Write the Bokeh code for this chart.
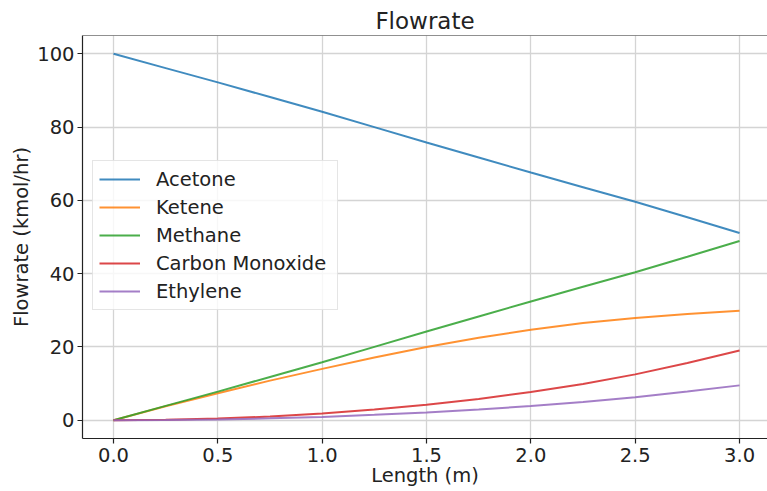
from bokeh.plotting import figure
from bokeh.models import Legend, LegendItem, Span, FixedTicker, Range1d
from bokeh.embed import file_html
from bokeh.resources import INLINE

length_m = [0.0, 0.25, 0.5, 0.75, 1.0, 1.25, 1.5, 1.75, 2.0, 2.25, 2.5, 2.75, 3.0]
acetone = [100.0, 96.1, 92.2, 88.2, 84.2, 80.0, 75.8, 71.7, 67.6, 63.6, 59.6, 55.4, 51.1]
ketene = [0.0, 3.8, 7.35, 10.8, 14.0, 17.1, 20.0, 22.5, 24.7, 26.5, 27.9, 29.0, 29.9]
methane = [0.0, 3.9, 7.8, 11.8, 15.8, 20.0, 24.2, 28.3, 32.4, 36.4, 40.4, 44.6, 48.9]
carbon_monoxide = [0.0, 0.1, 0.45, 1.0, 1.8, 2.9, 4.2, 5.8, 7.7, 9.9, 12.5, 15.6, 19.0]
ethylene = [0.0, 0.05, 0.22, 0.5, 0.9, 1.45, 2.1, 2.9, 3.85, 4.95, 6.25, 7.8, 9.5]

series_names = ["Acetone", "Ketene", "Methane", "Carbon Monoxide", "Ethylene"]
series_values = [acetone, ketene, methane, carbon_monoxide, ethylene]
series_colors = ["#1f77b4", "#ff7f0e", "#2ca02c", "#d62728", "#9467bd"]

x_ticks = [0.0, 0.5, 1.0, 1.5, 2.0, 2.5, 3.0]
x_tick_labels = ["0.0", "0.5", "1.0", "1.5", "2.0", "2.5", "3.0"]
y_ticks = [0, 20, 40, 60, 80, 100]
y_tick_labels = ["0", "20", "40", "60", "80", "100"]

FONT = "DejaVu Sans"
TXT = "#222222"
FS = "19.5px"

p = figure(width=767, height=491, output_backend="svg", toolbar_location=None,
           x_range=Range1d(-0.1486, 3.134), y_range=Range1d(-5, 105),
           min_border_left=82, min_border_right=0, min_border_top=35, min_border_bottom=53,
           title="Flowrate")

p.title.text_font = FONT
p.title.text_font_size = "23px"
p.title.text_font_style = "normal"
p.title.text_color = TXT
p.title.align = "center"
p.title.text_line_height = 1.0
p.title.standoff = 4

p.outline_line_color = None
p.add_layout(Span(location=105, dimension="width", line_color="#222222", line_width=1.2))

for ax in (p.xaxis[0], p.yaxis[0]):
    ax.major_label_text_font = FONT
    ax.major_label_text_font_size = FS
    ax.major_label_text_color = TXT
    ax.axis_label_text_font = FONT
    ax.axis_label_text_font_size = FS
    ax.axis_label_text_font_style = "normal"
    ax.axis_label_text_color = TXT
    ax.axis_line_color = "#222222"
    ax.axis_line_width = 1.2
    ax.major_tick_line_color = "#222222"
    ax.major_tick_line_width = 1.2
    ax.major_tick_out = 5
    ax.major_tick_in = 0
    ax.minor_tick_line_color = None

p.xaxis.ticker = FixedTicker(ticks=x_ticks)
p.xaxis.major_label_overrides = {t: l for t, l in zip(x_ticks, x_tick_labels)}
p.yaxis.ticker = FixedTicker(ticks=y_ticks)
p.yaxis.major_label_overrides = {t: l for t, l in zip(y_ticks, y_tick_labels)}
p.xaxis.axis_label = "Length (m)"
p.yaxis.axis_label = "Flowrate (kmol/hr)"
p.xaxis.major_label_standoff = 4
p.xaxis.major_label_text_line_height = 1.0
p.xaxis.axis_label_text_line_height = 1.0
p.xaxis.axis_label_standoff = -1
p.yaxis.major_label_standoff = 3
p.yaxis.axis_label_standoff = 1

p.grid.grid_line_color = "#d4d4d4"
p.grid.grid_line_width = 1.3

items = []
for name, vals, col in zip(series_names, series_values, series_colors):
    r = p.line(length_m, vals, line_color=col, line_width=2, line_alpha=0.85)
    items.append(LegendItem(label=name, renderers=[r]))

legend = Legend(items=items, location=(10, 128))
legend.label_text_font = FONT
legend.label_text_font_size = FS
legend.label_text_color = TXT
legend.glyph_width = 41
legend.glyph_height = 20
legend.label_standoff = 16
legend.label_height = 24
legend.label_width = 175
legend.spacing = 4
legend.padding = 6
legend.margin = 0
legend.border_line_color = "#cccccc"
legend.border_line_width = 1
legend.background_fill_color = "white"
legend.background_fill_alpha = 0.8
p.add_layout(legend)

open("out.html", "w").write(file_html(p, INLINE))
